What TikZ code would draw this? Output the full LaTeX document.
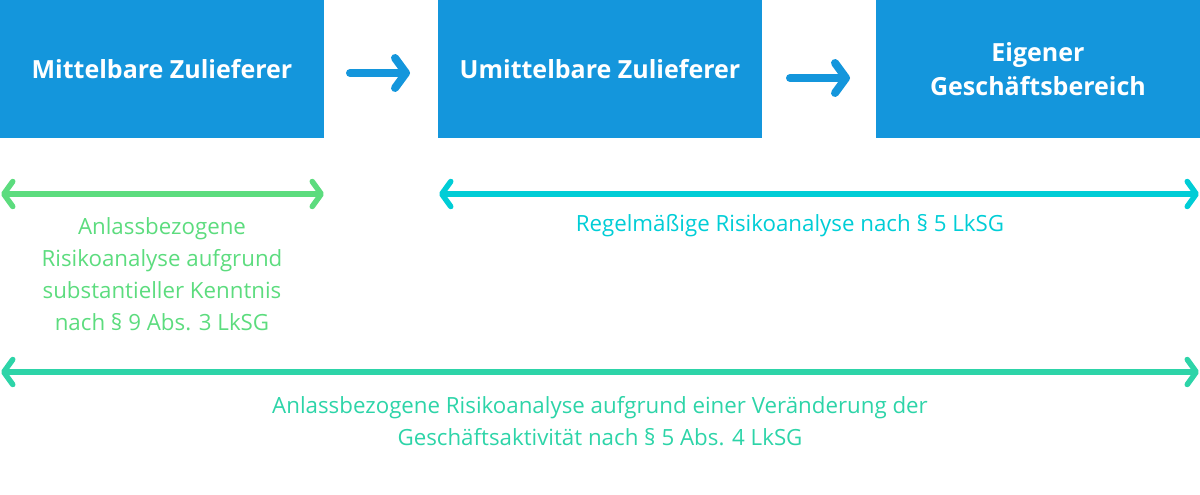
\documentclass[tikz,border=0pt]{standalone}
\usepackage{fontspec}
\setmainfont{Open Sans}
\usetikzlibrary{arrows.meta}
\definecolor{boxblue}{HTML}{1496DC}
\definecolor{lgreen}{HTML}{5CDC7E}
\definecolor{lcyan}{HTML}{00CDD6}
\definecolor{lteal}{HTML}{2DD4A8}
\tikzset{
  box/.style={fill=boxblue, text=white, minimum width=324pt, minimum height=138pt,
    inner sep=0pt, align=center, font=\fontsize{25}{34}\selectfont\bfseries},
  flowarrow/.style={draw=boxblue, line width=8pt, line cap=round,
    -{Straight Barb[round, length=11pt, width=30pt]}},
  rangearrow/.style={line width=5.5pt, line cap=round,
    {Straight Barb[round, length=9pt, width=25pt]}-{Straight Barb[round, length=9pt, width=25pt]}},
  note/.style={inner sep=0pt, align=center, font=\fontsize{22.3}{32}\selectfont}
}
\begin{document}
\begin{tikzpicture}[x=1pt, y=-1pt]
\useasboundingbox (0,0) rectangle (1200,495);
\node[box] (b1) at (162,69) {Mittelbare Zulieferer};
\node[box] (b2) at (600,69) {Umittelbare Zulieferer};
\node[box] (b3) at (1038,69) {Eigener\\Geschäftsbereich};
\coordinate (a1s) at (350,73);
\coordinate (a1e) at (410,73);
\coordinate (a2s) at (790,78);
\coordinate (a2e) at (850,78);
\draw[flowarrow] (a1s) -- (a1e);
\draw[flowarrow] (a2s) -- (a2e);
\coordinate (g1) at (1,194);
\coordinate (g2) at (324,194);
\coordinate (c1) at (439,194);
\coordinate (c2) at (1199,194);
\coordinate (t1) at (1,372);
\coordinate (t2) at (1199,372);
\draw[rangearrow, draw=lgreen] (g1) -- (g2);
\draw[rangearrow, draw=lcyan] (c1) -- (c2);
\draw[rangearrow, draw=lteal] (t1) -- (t2);
\node[note, text=lgreen] (ng) at (162,274) {Anlassbezogene\\Risikoanalyse aufgrund\\substantieller Kenntnis\\nach § 9 Abs. 3 LkSG};
\node[note, text=lcyan] (nc) at (790,226) {Regelmäßige Risikoanalyse nach § 5 LkSG};
\node[note, text=lteal] (nt) at (600,421) {Anlassbezogene Risikoanalyse aufgrund einer Veränderung der\\Geschäftsaktivität nach § 5 Abs. 4 LkSG};
\end{tikzpicture}
\end{document}
